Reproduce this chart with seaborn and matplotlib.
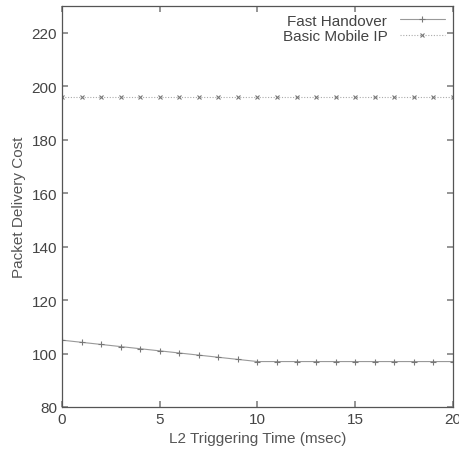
import matplotlib
matplotlib.use("Agg")
import matplotlib.pyplot as plt
import seaborn as sns
import pandas as pd

x_vals = list(range(0, 21))
fast_handover = [105, 104.2, 103.4, 102.6, 101.8, 101, 100.2, 99.4, 98.6, 97.8, 97,
                 97, 97, 97, 97, 97, 97, 97, 97, 97, 97]
basic_mobile_ip = [196] * 21
x_ticks = [0, 5, 10, 15, 20]
y_ticks = [80, 100, 120, 140, 160, 180, 200, 220]

sns.set_theme(style="white")
plt.rcParams['font.family'] = ['Liberation Sans', 'DejaVu Sans']

fig = plt.figure(figsize=(4.6, 4.52), dpi=100)
ax = fig.add_axes([62/460, 1 - 408/452, (453-62)/460, (408-7)/452])

sns.lineplot(x=x_vals, y=fast_handover, ax=ax,
             color="#999999", linewidth=0.8, marker="+", markersize=4,
             markeredgewidth=0.8, markeredgecolor="#777777", label="Fast Handover")
sns.lineplot(x=x_vals, y=basic_mobile_ip, ax=ax,
             color="#aaaaaa", linewidth=0.8, linestyle=(0, (1, 1.5)), marker="x",
             markersize=3.5, markeredgewidth=0.8, markeredgecolor="#777777",
             label="Basic Mobile IP")

ax.set_xlim(0, 20)
ax.set_ylim(80, 230)
ax.set_xticks(x_ticks)
ax.set_yticks(y_ticks)
ax.tick_params(direction="in", length=4, color="#888888", labelcolor="#444444",
               labelsize=11, top=True, right=True, bottom=True, left=True)
for s in ax.spines.values():
    s.set_color("#555555")
    s.set_linewidth(0.9)
ax.set_xlabel("L2 Triggering Time (msec)", color="#555555", fontsize=11)
ax.set_ylabel("Packet Delivery Cost", color="#555555", fontsize=11)

leg = ax.legend(loc="upper right", frameon=False, fontsize=11, markerfirst=False,
                handlelength=3, borderaxespad=0.1, labelspacing=0.1)
for t in leg.get_texts():
    t.set_color("#444444")
    t.set_ha("right")

fig.savefig("out.png", dpi=100)
